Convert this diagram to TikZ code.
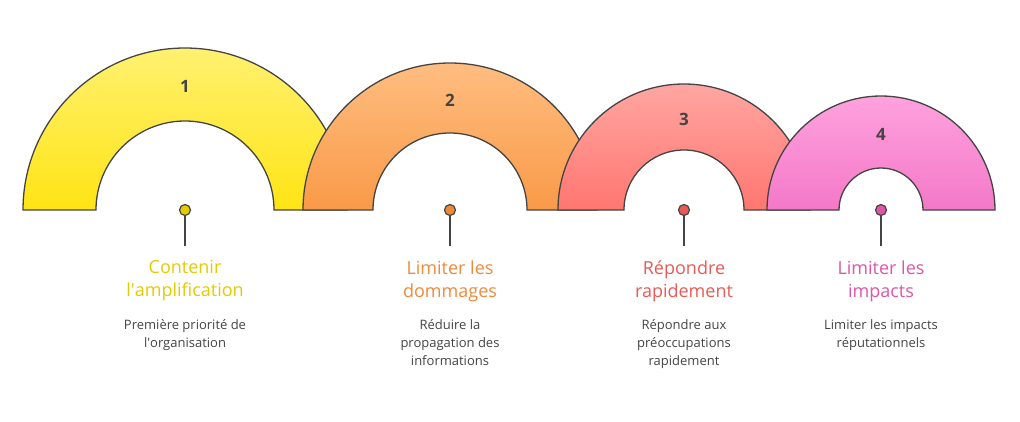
\documentclass[tikz,border=0pt]{standalone}
\usepackage{fontspec}
\setmainfont{Open Sans}
\usetikzlibrary{positioning}
\definecolor{archA}{HTML}{E3CB00}
\definecolor{archB}{HTML}{EE8A3C}
\definecolor{archC}{HTML}{E85A55}
\definecolor{archD}{HTML}{DD55A8}
\definecolor{edge}{HTML}{444444}
\tikzset{
  arch/.style={draw=edge, line width=1.3pt},
  num/.style={text=edge, font=\bfseries\fontsize{17}{17}\selectfont},
  dot/.style={circle, draw=edge, line width=1.2pt, minimum size=11pt, inner sep=0pt},
  title/.style={align=center, font=\fontsize{18}{23}\selectfont, anchor=north},
  desc/.style={align=center, text=edge, font=\fontsize{13}{18}\selectfont, anchor=north}
}
\begin{document}
\begin{tikzpicture}[x=1pt, y=-1pt]
\useasboundingbox (0,0) rectangle (1020,421);
% arches, drawn left to right so each one covers the previous
\foreach \cx/\R/\r/\top/\bot/\n [count=\i] in {
  185/162/89/{FFF170}/{FFE414}/1,
  450/147/77/{FFBD80}/{F99A48}/2,
  684/126/60/{FFA6A2}/{FF7670}/3,
  881/114/42/{FFA2DE}/{F478C8}/4}{
  \definecolor{tc}{HTML}{\top}\definecolor{bc}{HTML}{\bot}
  \path[arch, top color=tc, bottom color=bc]
    (\cx-\R,210) arc[start angle=180, end angle=360, radius=\R]
    -- (\cx+\r,210) arc[start angle=360, end angle=180, radius=\r] -- cycle;
  \node[num] (n\i) at (\cx,{212-(\R+\r)/2}) {\n};
}
% markers and texts
\foreach \cx/\col/\head/\body [count=\i] in {
  185/archA/{Contenir\\l\textquotesingle amplification}/{Première priorité de\\l\textquotesingle organisation},
  450/archB/{Limiter les\\dommages}/{Réduire la\\propagation des\\informations},
  684/archC/{Répondre\\rapidement}/{Répondre aux\\préoccupations\\rapidement},
  881/archD/{Limiter les\\impacts}/{Limiter les impacts\\réputationnels}}{
  \node[dot, fill=\col] (d\i) at (\cx,210) {};
  \coordinate (s\i) at (\cx,246);
  \draw[edge, line width=1.3pt] (d\i) -- (s\i);
  \node[title, text=\col] (t\i) at (\cx,257) {\head};
  \node[desc] (b\i) at (\cx,316) {\body};
}
\end{tikzpicture}
\end{document}
